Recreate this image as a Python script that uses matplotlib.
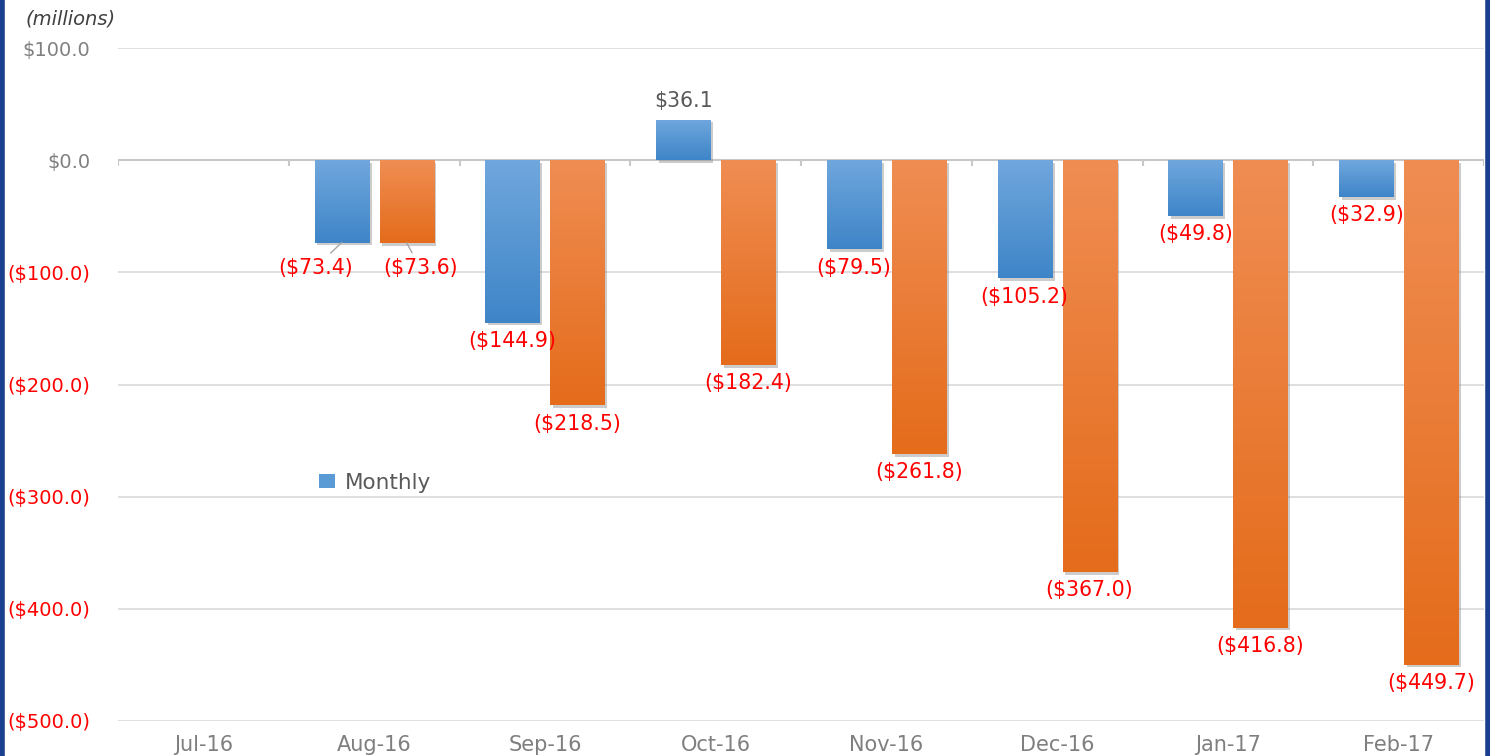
import numpy as np
import matplotlib
matplotlib.use("Agg")
import matplotlib.pyplot as plt
import matplotlib.patheffects as pe
from matplotlib.colors import LinearSegmentedColormap
from matplotlib.lines import Line2D

#Datos (millones)
meses = ["Jul-16", "Aug-16", "Sep-16", "Oct-16", "Nov-16", "Dec-16", "Jan-17", "Feb-17"]
mensual = [0.0, -73.4, -144.9, 36.1, -79.5, -105.2, -49.8, -32.9]
acumulado = [0.0, -73.6, -218.5, -182.4, -261.8, -367.0, -416.8, -449.7]
ticksY = [100, 0, -100, -200, -300, -400, -500]


def formatoPlata(valor):
    #Los negativos van entre parentesis como en Excel
    if valor < 0:
        return f"(${abs(valor):.1f})"
    return f"${valor:.1f}"


def barrasDegradadas(ax, barras, colorArriba, colorAbajo):
    #Pinto cada barra con un degradado vertical recortado a la forma de la barra
    mapa = LinearSegmentedColormap.from_list("deg", [colorArriba, colorAbajo])
    grad = np.linspace(0, 1, 256).reshape(-1, 1)
    for bar in barras:
        x0 = bar.get_x()
        y0 = bar.get_y()
        h = bar.get_height()
        if h == 0:
            continue
        yArriba = max(y0, y0 + h)
        yAbajo = min(y0, y0 + h)
        img = ax.imshow(grad, cmap=mapa, aspect="auto", origin="upper",
                        extent=(x0, x0 + bar.get_width(), yAbajo, yArriba), zorder=3)
        img.set_clip_path(bar)


fig = plt.figure(figsize=(14.9, 7.56), dpi=100)
ax = fig.add_axes([0.0792, 0.0463, 0.9168, 0.8902])

x = np.arange(len(meses))
ancho = 0.317
desp = 0.19
sombra = [pe.SimplePatchShadow(offset=(2, -2), alpha=0.4, shadow_rgbFace="gray"), pe.Normal()]

barrasMes = ax.bar(x - desp, mensual, ancho, color="#5b9bd5", label="Monthly", zorder=3)
barrasAcum = ax.bar(x + desp, acumulado, ancho, color="#ed7d31", zorder=3)
for b in list(barrasMes) + list(barrasAcum):
    if b.get_height() != 0:
        b.set_path_effects(sombra)

barrasDegradadas(ax, barrasMes, "#70a7dd", "#3e85c8")
barrasDegradadas(ax, barrasAcum, "#f08d53", "#e46c1b")

ax.set_xlim(-0.5, len(meses) - 0.5)
ax.set_ylim(-500, 100)

#Grilla y linea del cero
ax.set_yticks(ticksY)
ax.grid(axis="y", color="#d9d9d9", linewidth=1.2, zorder=0)
ax.axhline(0, color="#c8c8c8", linewidth=1.5, zorder=2)
ax.vlines(np.arange(len(meses) + 1) - 0.5, -5, 0, color="#c8c8c8", linewidth=1.5, zorder=2)

for lado in ["top", "right", "left", "bottom"]:
    ax.spines[lado].set_visible(False)

ax.set_xticks(x)
ax.set_xticklabels(meses, fontsize=15, color="#7f7f7f", family="DejaVu Sans")
ax.tick_params(axis="x", length=0, pad=10)
ax.tick_params(axis="y", length=0, pad=20)
ax.set_yticklabels([formatoPlata(v) for v in ticksY], fontsize=14, family="DejaVu Sans")
for lbl, v in zip(ax.get_yticklabels(), ticksY):
    lbl.set_color("red" if v < 0 else "#808080")

#Etiquetas de valores
def etiquetar(barras, valores, corrimientos):
    for bar, v, (dx, dy) in zip(barras, valores, corrimientos):
        if v == 0:
            continue
        cx = bar.get_x() + bar.get_width() / 2
        if v > 0:
            ax.annotate(formatoPlata(v), (cx, v), xytext=(0, 6), textcoords="offset points",
                        ha="center", va="bottom", fontsize=14.8, color="#595959")
        else:
            flecha = None
            if dx != 0:
                flecha = dict(arrowstyle="-", color="#a6a6a6", lw=1, shrinkA=2, shrinkB=0)
            ax.annotate(formatoPlata(v), (cx, v), xytext=(dx, -dy), textcoords="offset points",
                        ha="center", va="top", fontsize=14.8, color="red", arrowprops=flecha)

corrMes = [(0, 6)] * len(mensual)
corrMes[1] = (-19, 11)
corrAcum = [(0, 6)] * len(acumulado)
corrAcum[1] = (10, 11)
etiquetar(barrasMes, mensual, corrMes)
etiquetar(barrasAcum, acumulado, corrAcum)

ax.legend(handles=[barrasMes], loc="center left", bbox_to_anchor=(0.133, 0.354), frameon=False,
          fontsize=15.5, labelcolor="#595959", handlelength=0.75, handleheight=0.6, handletextpad=0.45)

fig.text(0.017, 0.975, "(millions)", style="italic", fontsize=14, color="#404040", va="center")

#Borde azul a los costados
fig.add_artist(Line2D([0.0015, 0.0015], [0, 1], color="#1a3f8f", linewidth=4, transform=fig.transFigure))
fig.add_artist(Line2D([0.9985, 0.9985], [0, 1], color="#1a3f8f", linewidth=4, transform=fig.transFigure))

fig.savefig("out.png", dpi=100)
